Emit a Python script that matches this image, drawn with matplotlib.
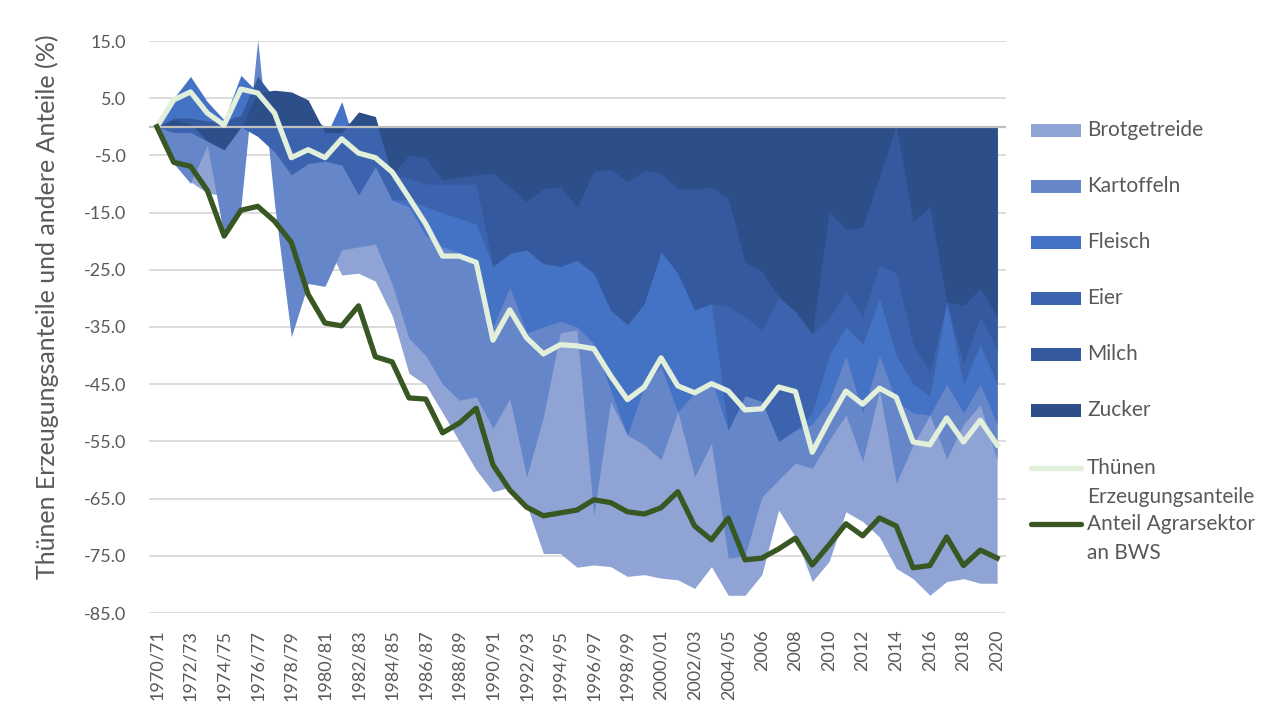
import numpy as np
import matplotlib
matplotlib.use("Agg")
import matplotlib.pyplot as plt
from matplotlib.patches import Rectangle
from matplotlib.lines import Line2D

plt.rcParams['font.family'] = ['Lato', 'DejaVu Sans']

# categories (Wirtschaftsjahre, ab 2005 Kalenderjahre)
years = [f"{y}/{(y + 1) % 100:02d}" for y in range(1970, 2005)] + [str(y) for y in range(2005, 2021)]

# Veraenderung der Anteile in % (gegenueber 1970/71)
brotgetreide = [0, -6.4, -9.6, -11.6, -12, 0, 0, -4.4, -10, -15,
                -19.7, -25.9, -25.6, -27, -33, -43.1, -45.1, -50, -55, -60,
                -63.8, -63, -66, -74.6, -74.6, -77, -76.6, -76.9, -78.6, -78.3,
                -78.9, -79.2, -80.7, -76.9, -81.9, -81.9, -78.3, -67, -71.7, -79.5,
                -76, -67.3, -69, -71.7, -77.2, -79, -81.9, -79.5, -79, -79.8, -79.8]
kartoffeln = [0, -6.4, -9.9, -3.2, -19.2, -14, 15.2, -13.5, -36.7, -27.4,
              -27.9, -21.5, -21, -20.5, -27.5, -37, -40, -45, -47.8, -47.2,
              -52.7, -47.5, -61.2, -50.7, -36, -35.5, -67.9, -48, -53.9, -55.6,
              -58.2, -49.8, -61.2, -55.3, -75.4, -75, -64.7, -61.7, -58.8, -59.7,
              -54.8, -50.4, -58.5, -46, -62.3, -55.6, -50.4, -58, -52, -48.6, -58.2]
fleisch = [0, 5.0, 8.8, 4.4, 1.2, 9.0, 6, 2, 1, 0,
           -2, 4.4, -5, -6, -12.8, -14, -19, -21, -22, -24,
           -35, -28, -36, -35, -34, -35, -37.9, -46, -53.9, -45.4,
           -41.9, -49.8, -46.6, -44.3, -53, -47, -48, -55, -53, -52,
           -48, -40, -50, -40, -48, -50, -50.4, -45, -50, -45, -52]
eier = [0, -1, -1, -2.5, -4, 0, -1.7, -4.4, -8.4, -6.4,
        -6, -6.7, -11.9, -7, -12.8, -12.8, -14, -15, -16, -17,
        -24.4, -22.1, -21.5, -23.9, -24.4, -23.3, -25.6, -32, -34.6, -30.9,
        -21.8, -25.6, -32, -30.9, -53, -47, -48, -55, -53, -50,
        -40, -35, -38, -30, -40, -45, -47, -30.6, -45, -38, -45]
milch = [0, 1.5, 1.5, 1, 1, 2, 8.8, 5, 4, 2,
         0, 0, 1.5, 1, -8.5, -9, -10, -10, -10, -10,
         -24.4, -22.1, -21.5, -23.9, -24.4, -23.3, -25.6, -32, -34.6, -30.9,
         -21.8, -25.6, -32, -30.9, -31.4, -33.2, -35.5, -29.7, -32.3, -36.1,
         -33.5, -28.8, -33.2, -24.2, -25.6, -38.1, -42.8, -30.6, -41.4, -33.2, -39]
zucker = [0, 1.2, 0.5, -2.5, -4, 0, 6, 6.4, 6.1, 4.7,
          -1, -1, 2.6, 1.8, -8.5, -4.9, -5.5, -9.3, -8.8, -8.4,
          -8.1, -10.5, -13.1, -10.8, -10.5, -14, -7.8, -7.4, -9.6, -7.7,
          -8.1, -10.8, -10.9, -10.6, -12.5, -23.6, -25.3, -29.7, -32.3, -36.1,
          -14.8, -18, -17.5, -8.7, 0.3, -16.6, -14, -30.6, -31.2, -28.2, -33.2]

thuenen = [0, 4.7, 6.1, 2.4, 0.3, 6.6, 5.9, 2.4, -5.4, -4.0,
           -5.4, -2.1, -4.6, -5.4, -7.9, -12.4, -17, -22.6, -22.6, -23.7,
           -37.3, -32, -36.9, -39.7, -38.1, -38.3, -38.8, -43.5, -47.7, -45.5,
           -40.4, -45.3, -46.5, -44.9, -46.2, -49.5, -49.3, -45.5, -46.3, -56.9,
           -51.3, -46.2, -48.5, -45.7, -47.3, -55.1, -55.6, -50.9, -55.1, -51.3, -55.6]
anteil_bws = [0, -6.2, -6.9, -11.1, -19.1, -14.6, -13.9, -16.5, -20.2, -29.3,
              -34.3, -34.8, -31.3, -40.2, -41.1, -47.4, -47.6, -53.5, -51.8, -49.2,
              -59.1, -63.5, -66.5, -68, -67.5, -67, -65.2, -65.7, -67.3, -67.7,
              -66.6, -63.8, -69.8, -72.2, -68.4, -75.7, -75.4, -73.8, -71.9, -76.6,
              -73.1, -69.4, -71.5, -68.4, -69.8, -77.1, -76.7, -71.7, -76.7, -74, -75.4]

areas = [("Brotgetreide", brotgetreide, "#8FA4D4"),
         ("Kartoffeln", kartoffeln, "#6686CA"),
         ("Fleisch", fleisch, "#4472C4"),
         ("Eier", eier, "#3C64AE"),
         ("Milch", milch, "#34599E"),
         ("Zucker", zucker, "#2C4E89")]
lines = [("Thünen\nErzeugungsanteile", thuenen, "#E2EFDA"),
         ("Anteil Agrarsektor\nan BWS", anteil_bws, "#385723")]

W, H = 1265, 718
fig = plt.figure(figsize=(W / 100, H / 100), dpi=100)
ax = fig.add_axes([148.5 / W, 1 - 613 / H, 857 / W, 572 / H])

x = np.arange(len(years))
for name, vals, col in areas:
    ax.fill_between(x, 0, vals, color=col, linewidth=0, zorder=2)
ax.axhline(0, color="#BFBFBF", lw=1.6, zorder=3)
for name, vals, col in lines:
    ax.plot(x, vals, color=col, lw=3.8, solid_joinstyle="round", zorder=4)

ax.set_xlim(-0.5, len(years) - 0.5)
ax.set_ylim(-85, 15)
yt = np.arange(-85, 16, 10)
ax.set_yticks(yt)
ax.set_yticklabels([f"{v:.1f}" for v in yt])
ax.set_xticks(x[::2])
ax.set_xticklabels(years[::2], rotation=90)
ax.yaxis.grid(True, color="#D9D9D9", lw=1.3)
ax.set_axisbelow(True)
for s in ax.spines.values():
    s.set_visible(False)
ax.tick_params(axis="both", length=0, colors="#595959", labelsize=13)
ax.tick_params(axis="y", pad=16)
ax.tick_params(axis="x", pad=12)
ax.set_ylabel("Thünen Erzeugungsanteile und andere Anteile (%)", fontsize=18,
              color="#595959")
ax.yaxis.set_label_coords(-89 / 857, (613 - 307) / 572)

# legend on the right
def fx(px):
    return px / W

def fy(py):
    return 1 - py / H

for k, (name, vals, col) in enumerate(areas):
    yc = 130.5 + 56 * k
    fig.add_artist(Rectangle((fx(1030.5), fy(yc + 6.5)), 50 / W, 13 / H,
                             transform=fig.transFigure, color=col, lw=0))
    fig.text(fx(1087), fy(yc), name, va="center", ha="left", fontsize=15, color="#595959")
for k, (name, vals, col) in enumerate(lines):
    yc = 468 + 56 * k
    fig.add_artist(Line2D([fx(1031), fx(1081)], [fy(yc), fy(yc)], transform=fig.transFigure,
                          color=col, lw=3.8, solid_capstyle="round"))
    fig.text(fx(1087), fy(yc - 10), name, va="top", ha="left", fontsize=15,
             color="#595959", linespacing=1.55)

fig.savefig("out.png", dpi=100)
